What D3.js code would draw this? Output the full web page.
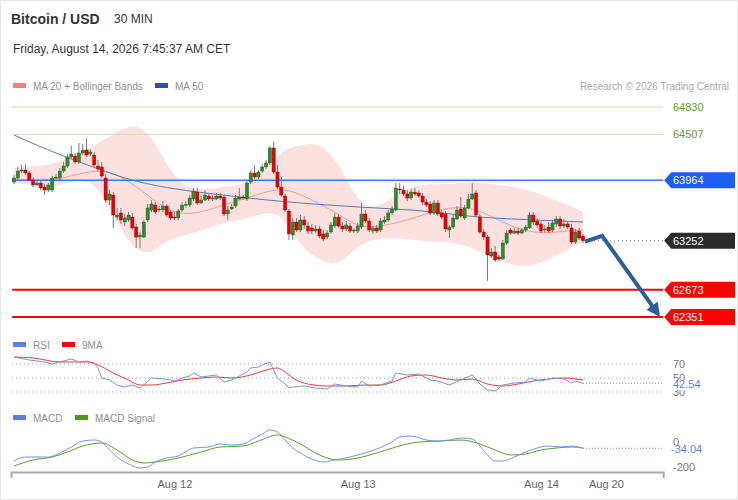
<!DOCTYPE html>
<html>
<head>
<meta charset="utf-8">
<script src="https://cdn.jsdelivr.net/npm/d3@7"></script>
<style>
  html, body { margin: 0; padding: 0; background: #fff; }
  svg { display: block; font-family: "Liberation Sans", Arial, sans-serif; }
</style>
</head>
<body>
<div id="chart"></div>
<script>

// Свечи 30 мин (150 штук)
const opens = [63944,63992,64074,64086,64051,63968,63909,63933,63885,63850, 63850,63992,63992,64074,64133,64240,64251,64181,64287,64322,
  64275,64263,64133,64122,63992,63732,63791,63531,63579,63472, 63496,63531,63413,63295,63295,63496,63614,63673,63614,63614,
  63661,63590,63531,63520,63614,63673,63673,63744,63826,63697, 63732,63779,63744,63744,63779,63767,63567,63626,63661,63744,
  63767,63744,63944,64051,64003,64074,64122,64169,64346,64062, 63885,63779,63602,63319,63472,63378,63496,63425,63402,63366,
  63390,63331,63295,63354,63425,63531,63425,63390,63425,63366, 63366,63413,63567,63484,63366,63402,63378,63472,63496,63579,
  63614,63862,63850,63803,63756,63826,63815,63779,63708,63685, 63579,63697,63579,63567,63378,63413,63508,63626,63520,63638,
  63744,63815,63531,63354,63295,63071,63118,63059,63036,63224, 63378,63342,63366,63342,63378,63402,63555,63484,63449,63378,
  63413,63378,63449,63508,63425,63449,63402,63236,63366,63307];
const closes = [63992,64074,64086,64051,63968,63909,63933,63874,63850,63909, 63992,64003,64074,64133,64240,64275,64181,64287,64322,64263,
  64299,64145,64098,64015,63732,63803,63555,63555,63496,63520, 63555,63402,63295,63319,63472,63638,63685,63590,63626,63661,
  63555,63520,63525,63602,63673,63680,63756,63838,63697,63732, 63791,63744,63756,63779,63756,63567,63614,63649,63756,63767,
  63756,63933,64051,64003,64062,64122,64169,64346,64062,63885, 63791,63614,63331,63472,63378,63496,63437,63366,63366,63390,
  63307,63272,63342,63437,63531,63425,63390,63437,63366,63378, 63425,63567,63484,63378,63402,63366,63484,63496,63579,63626,
  63874,63850,63803,63756,63826,63803,63779,63708,63673,63579, 63697,63567,63531,63390,63413,63520,63614,63543,63638,63744,
  63803,63555,63354,63295,63083,63118,63024,63036,63224,63342, 63342,63366,63342,63378,63413,63555,63472,63437,63366,63390,
  63366,63461,63508,63425,63449,63413,63236,63354,63283,63252];
const highs = [64027,64122,64145,64157,64074,64003,63968,63956,63921,63933, 64015,64039,64110,64181,64275,64370,64287,64405,64393,64464,
  64334,64299,64204,64181,64039,63850,63826,63638,63638,63567, 63590,63579,63449,63354,63496,63685,63732,63708,63661,63720,
  63685,63614,63590,63626,63708,63720,63791,63874,63874,63779, 63850,63803,63791,63815,63815,63791,63661,63685,63791,63874,
  63791,63956,64086,64145,64086,64157,64204,64370,64417,64145, 64003,63803,63626,63520,63520,63555,63543,63472,63449,63437,
  63425,63378,63378,63472,63579,63567,63472,63484,63461,63402, 63461,63697,63614,63520,63425,63437,63520,63543,63614,63661,
  63933,63933,63897,63850,63862,63874,63850,63815,63744,63720, 63732,63732,63614,63602,63437,63555,63661,63767,63673,63803,
  63933,63850,63567,63390,63319,63165,63189,63083,63260,63378, 63402,63402,63402,63402,63437,63590,63590,63520,63484,63437,
  63472,63496,63543,63543,63508,63472,63449,63390,63402,63331];
const lows = [63921,63968,64051,64027,63956,63885,63897,63850,63791,63826, 63826,63968,63968,64051,64110,64216,64157,64157,64263,64240,
  64251,64122,64074,63992,63697,63673,63402,63496,63449,63425, 63472,63378,63165,63165,63283,63472,63590,63567,63590,63590,
  63531,63496,63496,63496,63590,63638,63649,63720,63673,63685, 63720,63720,63720,63732,63732,63543,63496,63614,63638,63732,
  63732,63720,63921,63980,63980,64051,64098,64145,64039,63862, 63767,63590,63260,63260,63354,63354,63390,63331,63331,63342,
  63283,63248,63272,63331,63402,63402,63354,63366,63342,63342, 63342,63390,63461,63354,63331,63342,63354,63449,63472,63555,
  63602,63803,63779,63720,63732,63779,63756,63673,63649,63555, 63555,63543,63508,63354,63283,63390,63496,63520,63496,63626,
  63732,63531,63331,63260,62776,63047,63000,63012,63024,63201, 63319,63331,63319,63331,63354,63390,63437,63402,63342,63354,
  63342,63354,63413,63390,63402,63390,63213,63213,63260,63224];

// MA 20 + полосы Боллинджера (по точкам)
const bandIdx = [0,5,10,15,20,25,30,35,40,45,50,55,60,65,70,75,80,85,90,95,100,105,110,115,120,125,130,135,140,145,149];
const bbUpper = [64110,64133,64145,64251,64346,64488,64617,64582,64133,63862,63862,63885,63909,64039,64322,64381,64417,64181,63697,63626,63791,63909,63921,63921,63944,63921,63897,63850,63767,63673,63590];
const bbLower = [63933,63909,63885,63944,63992,63673,63201,63059,63260,63319,63378,63472,63496,63579,63590,63165,63024,62941,63201,63283,63283,63260,63236,63236,63165,63059,62965,62941,63024,63142,63236];
const ma20 = [63968,63968,63968,64015,64074,64074,63956,63791,63614,63555,63602,63673,63744,63815,63874,63803,63685,63567,63413,63413,63461,63520,63602,63649,63638,63543,63425,63354,63342,63366,63378];

// MA 50
const ma50Idx = [0,10,20,30,40,50,60,70,80,90,100,110,120,130,140,149];
const ma50 = [64499,64299,64133,63968,63874,63815,63762,63714,63679,63649,63626,63596,63531,63508,63490,63472];

// Уровни
const resistLevels = [64830, 64507];
const pivotLevel = 63964;
const lastPrice = 63252;
const supportLevels = [62673, 62351];

// Прогноз (стрелка)
const fcIdx = [149.5, 154, 169.2];
const fcPrice = [63240, 63310, 62351];

// RSI и 9MA
const rsiIdx = [0,4,8,10,12,15,17,19,21,22,23,25,27,29,31,33,34,36,39,41,42,44,46,47,49,51,53,55,57,59,61,62,64,65,67,68,69,71,72,73,76,79,82,84,87,90,91,93,96,99,100,103,106,109,111,114,117,120,122,124,126,128,131,134,135,138,141,144,146,147,149];
const rsiVal = [80,75.7,72.9,70,72.9,77.1,72.9,74.3,71.4,64.3,50,47.1,40,37.1,40,35.7,40,50,48.6,47.1,45.7,50,52.9,57.1,51.4,52.9,54.3,44.3,47.1,52.9,58.6,64.3,65.7,68.6,72.9,61.4,50,41.4,35.7,37.1,38.6,35.7,34.3,41.4,38.6,37.1,45.7,38.6,40,45.7,57.1,54.3,55.7,47.1,45.7,40,47.1,54.3,41.4,32.9,31.4,40,42.9,44.3,50,45.7,50,48.6,42.9,45.7,42.54];
const rsiMaIdx = [0,5,12,19,22,26,30,33,36,40,44,49,53,57,62,66,69,71,73,77,82,87,92,96,100,104,108,112,116,120,124,128,132,136,140,144,149];
const rsiMa = [80,78.6,72.9,72.9,68.6,57.1,47.1,40,40,42.9,47.1,50,51.4,50,54.3,61.4,64.3,58.6,50,41.4,38.6,38.6,40,40,45.7,52.9,54.3,50,47.1,48.6,41.4,38.6,41.4,45.7,48.6,50,47.1];
const rsiTicks = [70, 50, 30];

// MACD
const macdIdx = [0,3,9,12,15,18,21,23,25,28,30,33,35,37,40,43,47,51,54,57,60,63,65,67,69,71,73,75,78,81,84,88,91,95,99,101,104,108,111,114,117,120,122,124,126,128,131,134,137,140,143,146,149];
const macdVal = [-136,-104,-104,-72,-24,24,32,16,-48,-128,-160,-192,-184,-144,-112,-96,-32,-24,0,-8,0,48,80,112,96,32,-32,-72,-120,-144,-128,-104,-80,-40,16,56,64,32,24,32,48,40,-16,-88,-136,-136,-104,-64,-32,-16,-24,-16,-34.04];
const sigIdx = [0,5,10,14,18,23,27,31,34,37,43,49,54,60,64,69,71,75,80,85,90,95,100,106,112,117,122,126,130,134,138,142,146,149];
const sigVal = [-176,-128,-104,-64,-16,8,-48,-128,-152,-144,-112,-64,-24,-16,24,72,56,0,-88,-128,-112,-72,-24,16,24,32,0,-48,-88,-80,-48,-32,-24,-32];
const macdTicks = [0, -200];

// Подписи оси X
const dayTickIdx = [42, 90, 138, 155];
const dayTickLabels = ['Aug 12', 'Aug 13', 'Aug 14', 'Aug 20'];

/* ============================================ */

let width = 738;
let height = 500;
const axisEnd = 170;   // правый край линий / оси (в индексах свечей)
const labelX = 673;

let svg = d3.select('#chart')
            .append('svg')
            .attr('width', width)
            .attr('height', height);

// Рамка
svg.append('rect')
  .attr('x', 0.5).attr('y', 0.5)
  .attr('width', width - 1).attr('height', height - 1)
  .attr('fill', '#fff')
  .attr('stroke', '#e6e6e6');

// Шкалы
let x = d3.scaleLinear().domain([0, 149]).range([14, 583]);
let y = d3.scaleLinear().domain([62351, 64830]).range([317, 107]);
let rsiY = d3.scaleLinear().domain([30, 70]).range([392, 364]);
let macdY = d3.scaleLinear().domain([-200, 0]).range([469, 444]);

const xL = x(-0.5), xR = x(axisEnd);

// Заголовок
svg.append('text').attr('x', 11).attr('y', 24)
  .attr('font-size', 14).attr('font-weight', 'bold').attr('fill', '#333')
  .text('Bitcoin / USD');
svg.append('text').attr('x', 114).attr('y', 23)
  .attr('font-size', 12).attr('fill', '#333')
  .text('30 MIN');
svg.append('text').attr('x', 13).attr('y', 53)
  .attr('font-size', 12).attr('fill', '#333')
  .text('Friday, August 14, 2026 7:45:37 AM CET');

// Легенда
function legendItem(sx, sy, color, label) {
  svg.append('rect').attr('x', sx).attr('y', sy - 3).attr('width', 13).attr('height', 5).attr('fill', color);
  svg.append('text').attr('x', sx + 20).attr('y', sy + 4)
    .attr('font-size', 10).attr('fill', '#8a8f9c').text(label);
}
legendItem(13, 86, '#f57f7f', 'MA 20 + Bollinger Bands');
legendItem(155, 86, '#2f5597', 'MA 50');
svg.append('text').attr('x', 729).attr('y', 90)
  .attr('text-anchor', 'end').attr('font-size', 10).attr('fill', '#a8a8a8')
  .text('Research \u00A9 2026 Trading Central');

/* ---------- Ценовой график ---------- */

// Полосы Боллинджера
let band = d3.area()
  .x((d, i) => x(bandIdx[i]))
  .y0((d, i) => y(bbLower[i]))
  .y1((d, i) => y(bbUpper[i]))
  .curve(d3.curveBasis);

svg.append('path')
  .datum(bandIdx)
  .attr('fill', '#fde1e1')
  .attr('d', band);

// MA 20
svg.append('path')
  .datum(bandIdx)
  .attr('fill', 'none')
  .attr('stroke', '#f39a9a')
  .attr('stroke-width', 1)
  .attr('d', d3.line().x((d, i) => x(bandIdx[i])).y((d, i) => y(ma20[i])).curve(d3.curveBasis));

// MA 50
svg.append('path')
  .datum(ma50Idx)
  .attr('fill', 'none')
  .attr('stroke', '#5a78b0')
  .attr('stroke-width', 1)
  .attr('d', d3.line().x((d, i) => x(ma50Idx[i])).y((d, i) => y(ma50[i])).curve(d3.curveBasis));

// Горизонтальные уровни
svg.selectAll('.res')
  .data(resistLevels)
  .enter()
  .append('line')
  .attr('x1', xL).attr('x2', xR)
  .attr('y1', d => y(d)).attr('y2', d => y(d))
  .attr('stroke', '#c9e2ac').attr('stroke-width', 1);

svg.selectAll('.resLabel')
  .data(resistLevels)
  .enter()
  .append('text')
  .attr('x', labelX).attr('y', d => y(d) + 4)
  .attr('font-size', 11).attr('fill', '#5aa02c')
  .text(d => d);

svg.append('line')
  .attr('x1', xL).attr('x2', xR)
  .attr('y1', y(pivotLevel)).attr('y2', y(pivotLevel))
  .attr('stroke', '#3f78e0').attr('stroke-width', 1.5);

svg.selectAll('.sup')
  .data(supportLevels)
  .enter()
  .append('line')
  .attr('x1', xL).attr('x2', xR)
  .attr('y1', d => y(d)).attr('y2', d => y(d))
  .attr('stroke', '#ff0000').attr('stroke-width', 2);

svg.append('line')
  .attr('x1', x(149) + 3).attr('x2', xR)
  .attr('y1', y(lastPrice)).attr('y2', y(lastPrice))
  .attr('stroke', '#888').attr('stroke-width', 1)
  .attr('stroke-dasharray', '1,3');

// Свечи
let candles = svg.append('g');
d3.range(opens.length).forEach(i => {
  candles.append('line')
    .attr('x1', x(i)).attr('x2', x(i))
    .attr('y1', y(highs[i])).attr('y2', y(lows[i]))
    .attr('stroke', '#7a7a7a').attr('stroke-width', 1);
  let up = closes[i] >= opens[i];
  let top = y(Math.max(opens[i], closes[i]));
  let bot = y(Math.min(opens[i], closes[i]));
  candles.append('rect')
    .attr('x', x(i) - 1.6).attr('width', 3.2)
    .attr('y', top).attr('height', Math.max(1, bot - top))
    .attr('fill', up ? '#2e8a2e' : '#e40000')
    .attr('stroke', up ? '#1f5e1f' : '#a80000')
    .attr('stroke-width', 0.4);
});

// Ярлыки уровней
function tag(value, color) {
  let cy = y(value);
  svg.append('path')
    .attr('d', `M${xR + 1},${cy} L${xR + 8},${cy - 8} L735,${cy - 8} L735,${cy + 8} L${xR + 8},${cy + 8} Z`)
    .attr('fill', color);
  svg.append('text').attr('x', labelX).attr('y', cy + 4)
    .attr('font-size', 11).attr('fill', '#fff')
    .text(value);
}
tag(pivotLevel, '#1c5ef2');
tag(lastPrice, '#2b2b2b');
supportLevels.forEach(v => tag(v, '#ff0000'));

// Стрелка прогноза
let defs = svg.append('defs');
defs.append('marker')
  .attr('id', 'arrowHead')
  .attr('viewBox', '0 0 10 10')
  .attr('refX', 10).attr('refY', 5)
  .attr('markerUnits', 'userSpaceOnUse')
  .attr('markerWidth', 14).attr('markerHeight', 14)
  .attr('orient', 'auto')
  .append('path')
  .attr('d', 'M0,0 L10,5 L0,10 Z')
  .attr('fill', '#2e5e9e');

let fcLine = d3.line().x((d, i) => x(fcIdx[i])).y((d, i) => y(fcPrice[i]));
let arrow = svg.append('path')
  .datum(fcIdx)
  .attr('fill', 'none')
  .attr('stroke', '#2e5e9e')
  .attr('stroke-width', 4)
  .attr('stroke-linejoin', 'miter')
  .attr('d', fcLine);
let len = arrow.node().getTotalLength();
arrow.attr('stroke-dasharray', `${len - 9},100`);
svg.append('path')
  .datum(fcIdx.slice(-2))
  .attr('fill', 'none')
  .attr('stroke', 'none')
  .attr('marker-end', 'url(#arrowHead)')
  .attr('d', d3.line().x((d) => x(d)).y((d, i) => y(fcPrice[fcPrice.length - 2 + i])));

/* ---------- RSI ---------- */

legendItem(13, 345, '#5b7fe0', 'RSI');
legendItem(62, 345, '#ff0000', '9MA');

svg.selectAll('.rsiGrid')
  .data(rsiTicks)
  .enter()
  .append('line')
  .attr('x1', xL).attr('x2', xR)
  .attr('y1', d => rsiY(d)).attr('y2', d => rsiY(d))
  .attr('stroke', '#999').attr('stroke-dasharray', '1,3');

svg.selectAll('.rsiTick')
  .data(rsiTicks)
  .enter()
  .append('text')
  .attr('x', labelX).attr('y', d => rsiY(d) + 4)
  .attr('font-size', 11).attr('fill', '#777')
  .text(d => d);

svg.append('path')
  .datum(rsiMaIdx)
  .attr('fill', 'none')
  .attr('stroke', '#f03a3a')
  .attr('stroke-width', 1)
  .attr('d', d3.line().x((d, i) => x(rsiMaIdx[i])).y((d, i) => rsiY(rsiMa[i])).curve(d3.curveMonotoneX));

svg.append('path')
  .datum(rsiIdx)
  .attr('fill', 'none')
  .attr('stroke', '#7094ea')
  .attr('stroke-width', 1)
  .attr('d', d3.line().x((d, i) => x(rsiIdx[i])).y((d, i) => rsiY(rsiVal[i])));

const rsiLast = rsiVal[rsiVal.length - 1];
svg.append('line')
  .attr('x1', x(149)).attr('x2', xR)
  .attr('y1', rsiY(rsiLast)).attr('y2', rsiY(rsiLast))
  .attr('stroke', '#6a8fe6').attr('stroke-dasharray', '1,2');
svg.append('rect').attr('x', labelX - 1).attr('y', rsiY(rsiLast) - 3).attr('width', 34).attr('height', 10).attr('fill', '#fff');
svg.append('text').attr('x', labelX).attr('y', rsiY(rsiLast) + 5)
  .attr('font-size', 11).attr('fill', '#5b7fe0')
  .text(rsiLast.toFixed(2));

/* ---------- MACD ---------- */

legendItem(13, 418, '#5b7fe0', 'MACD');
legendItem(75, 418, '#4a9a1a', 'MACD Signal');

svg.selectAll('.macdTick')
  .data(macdTicks)
  .enter()
  .append('text')
  .attr('x', labelX).attr('y', d => macdY(d) + 2)
  .attr('font-size', 11).attr('fill', '#777')
  .text(d => d);

svg.append('path')
  .datum(sigIdx)
  .attr('fill', 'none')
  .attr('stroke', '#5a9e2a')
  .attr('stroke-width', 1)
  .attr('d', d3.line().x((d, i) => x(sigIdx[i])).y((d, i) => macdY(sigVal[i])).curve(d3.curveMonotoneX));

svg.append('path')
  .datum(macdIdx)
  .attr('fill', 'none')
  .attr('stroke', '#7094ea')
  .attr('stroke-width', 1)
  .attr('d', d3.line().x((d, i) => x(macdIdx[i])).y((d, i) => macdY(macdVal[i])).curve(d3.curveMonotoneX));

const macdLast = macdVal[macdVal.length - 1];
svg.append('line')
  .attr('x1', x(149)).attr('x2', xR)
  .attr('y1', macdY(macdLast)).attr('y2', macdY(macdLast))
  .attr('stroke', '#6a8fe6').attr('stroke-dasharray', '1,2');
svg.append('rect').attr('x', labelX - 1).attr('y', macdY(macdLast) - 3).attr('width', 40).attr('height', 10).attr('fill', '#fff');
svg.append('text').attr('x', labelX - 2).attr('y', macdY(macdLast) + 5)
  .attr('font-size', 11).attr('fill', '#5b7fe0')
  .text(macdLast.toFixed(2));

/* ---------- Ось X ---------- */

let xAxisScale = x.copy().domain([-0.8, axisEnd]).range([x(-0.8), x(axisEnd)]);
let xAxis = d3.axisBottom(xAxisScale)
  .tickValues(dayTickIdx)
  .tickFormat((d, i) => dayTickLabels[i])
  .tickSizeInner(0)
  .tickSizeOuter(6)
  .tickPadding(8);

let gx = svg.append('g')
  .attr('transform', 'translate(0, 472)')
  .call(xAxis);
gx.select('.domain').attr('stroke', '#aaa').attr('stroke-width', 2);
gx.selectAll('text').attr('fill', '#666').attr('font-size', 11)
  .attr('font-family', '"Liberation Sans", Arial, sans-serif');

</script>
</body>
</html>
